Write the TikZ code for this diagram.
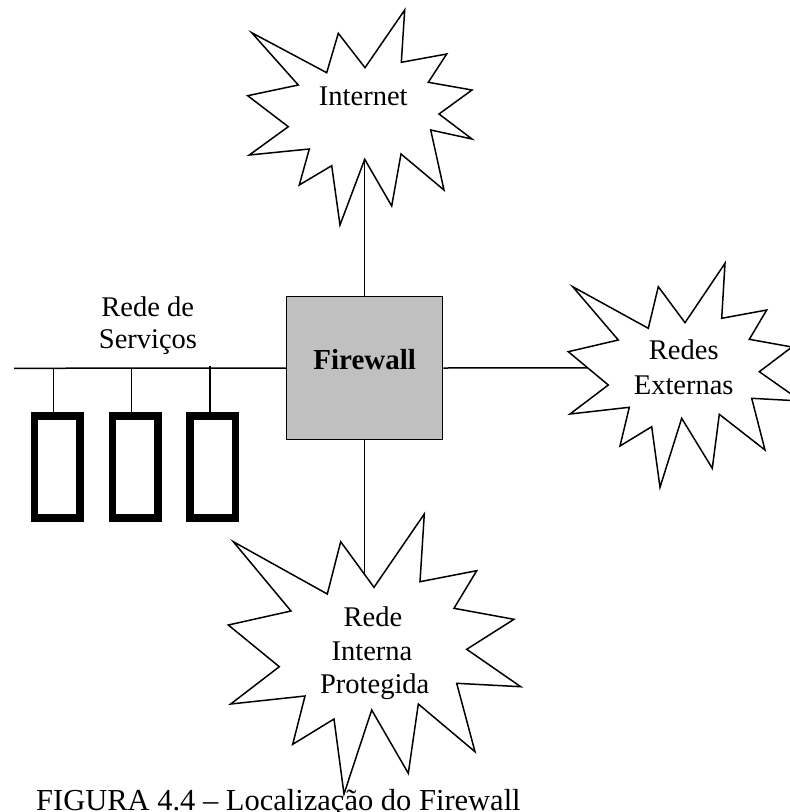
\documentclass[tikz,border=0pt]{standalone}
\usepackage{fontspec}
\setmainfont{Liberation Serif}
\definecolor{fwgray}{HTML}{C0C0C0}
\begin{document}
\begin{tikzpicture}[x=1pt,y=-1pt,
  wire/.style={line width=1.5pt},
  burst/.style={draw, line width=1.5pt, fill=white, line join=miter},
  lbl/.style={inner sep=0pt, anchor=base, font=\fontsize{28.5}{33}\selectfont},
  fwbox/.style={draw, line width=1.5pt, fill=fwgray, minimum width=156pt,
    minimum height=142.6pt, inner sep=0pt, text height=12pt, text depth=9.4pt,
    font=\fontsize{29}{33}\selectfont\bfseries},
  server/.style={draw, line width=7.5pt, minimum width=45.5pt,
    minimum height=102pt, inner sep=0pt}]
\useasboundingbox (0,0) rectangle (790,812);

% central firewall
\node[fwbox] (fw) at (364.7,368) {Firewall};

% points inside each cloud where the links end (hidden by the cloud fill)
\coordinate (inetc) at (364.7,120);
\coordinate (extc) at (640,367.7);
\coordinate (intc) at (364.7,640);

% links from the firewall
\draw[wire] (fw.north) -- (inetc);
\draw[wire] (fw.east) -- (extc);
\draw[wire] (fw.south) -- (intc);

% service network bus and hosts
\coordinate (busW) at (14,368.3);
\draw[wire] (busW) -- (fw.west);
\node[server] (srv1) at (57,466.9) {};
\node[server] (srv2) at (135,466.9) {};
\node[server] (srv3) at (212.5,466.9) {};
\coordinate (tap1) at (53.3,368.3);
\coordinate (tap2) at (131.7,368.3);
\coordinate (tap3) at (210,365.7);
\draw[wire] (tap1) -- (tap1 |- srv1.north);
\draw[wire] (tap2) -- (tap2 |- srv2.north);
\draw[wire] (tap3) -- (tap3 |- srv3.north);
\node[lbl] (svc1) at (147.7,316) {Rede de};
\node[lbl] (svc2) at (148,348.3) {Serviços};

% Internet cloud
\draw[burst] (251.7,32.7) -- (326.7,72.7) -- (338.3,33.3) -- (365,67.7)
  -- (404.7,10) -- (401.3,62.3) -- (446.7,54) -- (428.3,82.3) -- (472,90)
  -- (439,114) -- (472,139) -- (430.7,130) -- (444,190) -- (401,154)
  -- (391.7,206) -- (364.7,159.3) -- (340,225) -- (331.7,165.7)
  -- (299.3,185) -- (309.3,149) -- (249.3,155) -- (288.3,126.7)
  -- (247.7,95.7) -- (298.3,85) -- cycle;
\node[lbl] (inet) at (363.3,105) {Internet};

% external networks cloud
\draw[burst] (572.7,286.7) -- (648.3,328.3) -- (658.3,286.7) -- (685,322.7)
  -- (725,263.3) -- (721.7,318.3) -- (766.7,310) -- (749.3,339.3)
  -- (792,347) -- (759.3,371.7) -- (801,401) -- (751.7,398.3)
  -- (765,450) -- (719.3,414.3) -- (712.3,468.3) -- (681.7,418.3)
  -- (660,487.3) -- (651.7,426.7) -- (620,446) -- (629.3,407.3)
  -- (570,414) -- (608.3,385) -- (568.3,351.7) -- (618.3,340) -- cycle;
\node[lbl] (ext1) at (683.8,359.3) {Redes};
\node[lbl] (ext2) at (683.7,394) {Externas};

% protected internal network cloud
\draw[burst] (233.3,541.7) -- (327.3,594) -- (340.7,541.7) -- (374,587.3)
  -- (424.3,514) -- (420,581.7) -- (476.7,570.7) -- (454,608.3)
  -- (514,619.3) -- (466.7,649.3) -- (520.7,686.7) -- (456.7,683.3)
  -- (475,751.7) -- (418.3,704) -- (408.3,773.3) -- (371.7,710)
  -- (344,794) -- (334,719) -- (292.7,744.3) -- (305,696)
  -- (230.7,704) -- (279.3,666.7) -- (228.3,625) -- (291,611) -- cycle;
\node[lbl] (int1) at (373,626.7) {Rede};
\node[lbl] (int2) at (372,660) {Interna};
\node[lbl] (int3) at (374.7,693) {Protegida};

% caption
\node[inner sep=0pt, anchor=base west, font=\fontsize{30.5}{35}\selectfont]
  (cap) at (36,810) {FIGURA 4.4 – Localização do Firewall};
\end{tikzpicture}
\end{document}
